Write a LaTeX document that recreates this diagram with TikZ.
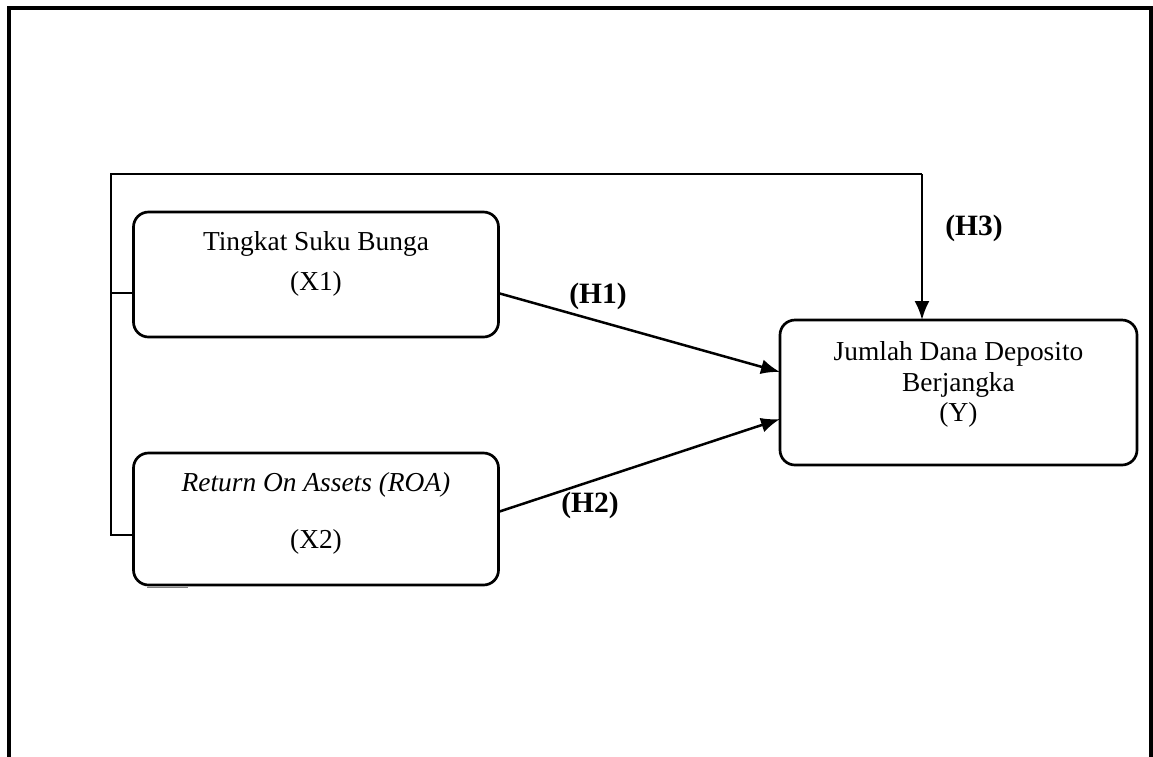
\documentclass[tikz,border=0pt]{standalone}
\usepackage{fontspec}
\setmainfont{Liberation Serif}
\usetikzlibrary{arrows.meta}
\tikzset{
  varbox/.style={draw, line width=2.7pt, rounded corners=15pt, inner sep=0pt},
  txt/.style={inner sep=0pt, font=\fontsize{27.4}{32}\selectfont},
  hlab/.style={inner sep=0pt, font=\fontsize{29.5}{34}\selectfont\bfseries},
  conn/.style={line width=2.5pt, -{Latex[length=19pt,width=15pt]}},
  brk/.style={line width=1.8pt},
}
\begin{document}
\begin{tikzpicture}[x=1pt,y=-1pt]
\useasboundingbox (0,0) rectangle (1153,756);
% outer frame (open at the bottom)
\draw[line width=3.2pt] (9,760) -- (9,8) -- (1151,8) -- (1151,760);
% boxes
\node[varbox, minimum width=365pt, minimum height=125pt] (x1) at (316,274.5) {};
\node[varbox, minimum width=365pt, minimum height=132pt] (x2) at (316,519) {};
\node[varbox, minimum width=357pt, minimum height=145pt] (y) at (958.5,392.5) {};
% texts
\node[txt] (t1a) at (316,244) {Tingkat Suku Bunga};
\node[txt] (t1b) at (316,284) {(X1)};
\node[txt] (t2a) at (316,485) {\itshape Return On Assets (ROA)};
\node[txt] (t2b) at (316,542) {(X2)};
\node[txt] (tya) at (958.5,354) {Jumlah Dana Deposito};
\node[txt] (tyb) at (958.5,385) {Berjangka};
\node[txt] (tyc) at (958.5,415) {(Y)};
% coordinates
\coordinate (bt) at (111,174);
\coordinate (bb) at (111,535);
\coordinate (b1) at (111,293);
\coordinate (tr) at (922,174);
\coordinate (ytop) at (922,320);
\coordinate (x1r) at (498,293);
\coordinate (x2r) at (498,512);
\coordinate (y1) at (780,372);
\coordinate (y2) at (780,419);
% bracket and H3
\draw[brk] (x2.west |- bb) -- (bb) -- (bt) -- (tr);
\draw[brk] (b1) -- (x1.west |- b1);
\draw[conn] (tr) -- (ytop);
% H1 and H2
\draw[conn] (x1r) -- (y1);
\draw[conn] (x2r) -- (y2);
% stray mark under X2
\draw[gray, line width=0.8pt] (147,587) -- (188,587);
% labels
\node[hlab] (h1) at (598,296) {(H1)};
\node[hlab] (h2) at (590,505) {(H2)};
\node[hlab] (h3) at (974,228) {(H3)};
\end{tikzpicture}
\end{document}
